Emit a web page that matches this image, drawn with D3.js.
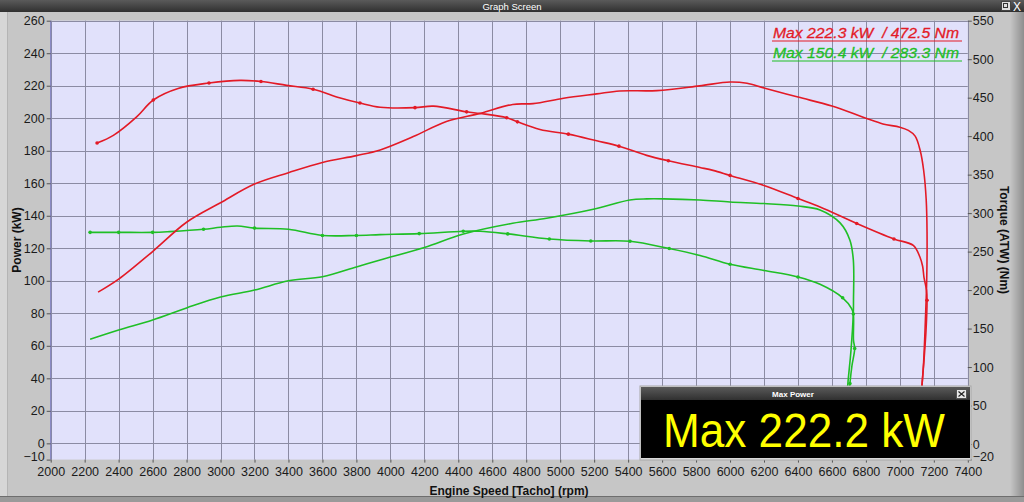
<!DOCTYPE html>
<html><head><meta charset="utf-8">
<script src="https://cdn.jsdelivr.net/npm/d3@7"></script>
<style>
body{margin:0;background:#c6c6c6;overflow:hidden}
svg text{font-family:Arial,"Liberation Sans",sans-serif}
</style>
</head><body><svg id="c" width="1024" height="502"></svg>
<script>
// ---------- data ----------
const rpmTicks = d3.range(2000, 7401, 200);
const powerTicks = [-10, 0, 20, 40, 60, 80, 100, 120, 140, 160, 180, 200, 220, 240, 260];
const torqueTicks = [-20, 0, 50, 100, 150, 200, 250, 300, 350, 400, 450, 500, 550];

// [rpm, kW]
const redPower = [[2279,93],[2400,101],[2600,118],[2800,136],[3000,148],[3200,159.5],[3400,166.5],[3600,172.8],[3800,177],[3940,180.5],[4135,188.7],[4330,198],[4530,203],[4720,208.5],[4840,209],[5020,212.3],[5215,215],[5350,216.8],[5570,217],[5820,219.9],[6000,222.3],[6100,221.5],[6200,218.6],[6400,213],[6600,207.5],[6800,200],[6900,196.5],[7000,194.5],[7050,192.5],[7090,189],[7120,180],[7140,168],[7155,150],[7160,130],[7158,100],[7150,75],[7140,50],[7130,35],[7115,10],[7100,-8]];
// [rpm, Nm]
const redTorque = [[2273,391],[2369,401],[2506,425],[2604,447],[2750,462],[2932,469],[3115,472.5],[3238,471],[3389,466],[3545,461],[3700,450],[3821,443],[3940,437.5],[4145,437],[4253,439],[4449,431.6],[4528,429.5],[4685,424],[4748,418.6],[4881,408.7],[5048,402.6],[5215,394],[5346,387],[5509,375],[5637,368],[5823,359.3],[5900,355.5],[6000,349],[6200,336],[6400,319],[6530,308],[6746,286.5],[6965,266.4],[7079,258],[7118,243],[7134,231],[7142,216.6],[7157,199.7],[7160,186.7],[7154,147.6],[7142,108.6],[7130,76],[7112,30],[7100,-10]];
const greenPower = [[2232,64],[2400,69.7],[2600,75.9],[2800,83.3],[3000,90],[3200,94.3],[3400,100],[3600,102.5],[3800,108.5],[3940,112.8],[4200,120.5],[4430,128.8],[4720,135.4],[4920,138.5],[5195,144],[5410,149.7],[5510,150.4],[5610,150.4],[5823,149.7],[6000,148.5],[6200,147.5],[6400,146],[6530,143.6],[6648,135.6],[6706,125],[6726,112.8],[6727,88],[6726,80],[6712,57],[6694,37],[6677,14],[6665,-8]];
const greenTorque = [[2232,275],[2400,275],[2600,275],[2700,276],[2900,279],[3000,281.6],[3100,283.3],[3200,280.5],[3400,279],[3600,271],[3800,271],[3939,272],[4170,273.4],[4429,276.4],[4528,276.4],[4691,273],[4936,266.4],[5180,263.8],[5411,263.4],[5642,254],[5823,245],[6000,233.5],[6200,225.5],[6400,217],[6530,207.5],[6663,190],[6716,176],[6726,169],[6727,134.6],[6734,124],[6718,102],[6706,78.7],[6690,30],[6677,-15]];

// indices of points that carry a small marker
const redPowerMarks = [];
const redTorqueMarks = [0,3,5,7,9,11,13,15,17,18,20,22,24,27,29,31,32,38];
const greenPowerMarks = [];
const greenTorqueMarks = [0,1,2,4,7,9,10,12,13,15,16,17,18,19,21,23,25,27,29,31];

const legendLines = ["Max 222.3 kW  / 472.5 Nm", "Max 150.4 kW  / 283.3 Nm"];
const maxText = "Max 222.2 kW";

// ---------- drawing ----------
const svg = d3.select("#c");
const W = 1024, H = 502;
const red = "#e31a26", green = "#1fbf25";

const x = d3.scaleLinear().domain([2000, 7400]).range([50.7, 967.8]);
const yP = d3.scaleLinear().domain([-10, 260]).range([459.6, 20.7]);
const yT = d3.scaleLinear().domain([-20, 550]).range([459.4, 20.7]);

// window frame
svg.append("rect").attr("width", W).attr("height", H).attr("fill", "#c6c6c6");
svg.append("rect").attr("x", 0).attr("y", 12).attr("width", 7).attr("height", H-12).attr("fill", "#d6d6d6");
svg.append("line").attr("x1", 7.5).attr("x2", 7.5).attr("y1", 12).attr("y2", 497).attr("stroke", "#b4b4b4");
const defs = svg.append("defs");
const rg = defs.append("linearGradient").attr("id", "rg").attr("x1", 0).attr("x2", 1);
rg.append("stop").attr("offset", 0).attr("stop-color", "#c6c6c6");
rg.append("stop").attr("offset", 1).attr("stop-color", "#8e8e8e");
svg.append("rect").attr("x", 1010).attr("y", 12).attr("width", 14).attr("height", H-12).attr("fill", "url(#rg)");
svg.append("rect").attr("x", 0).attr("y", 496).attr("width", W).attr("height", 6).attr("fill", "#9a9a9a");
svg.append("line").attr("x1", 0).attr("x2", W).attr("y1", 496.5).attr("y2", 496.5).attr("stroke", "#6e6e6e");

// title bar
const tg = defs.append("linearGradient").attr("id", "tg").attr("x1", 0).attr("x2", 0).attr("y1", 0).attr("y2", 1);
tg.append("stop").attr("offset", 0).attr("stop-color", "#5a5a5a");
tg.append("stop").attr("offset", 1).attr("stop-color", "#303030");
svg.append("rect").attr("width", W).attr("height", 12).attr("fill", "url(#tg)");
svg.append("text").attr("x", 512).attr("y", 9.5).attr("text-anchor", "middle").attr("fill", "#fff")
  .attr("font-size", 9.5).text("Graph Screen");
svg.append("rect").attr("x", 1001.5).attr("y", 1.5).attr("width", 9).attr("height", 9).attr("fill", "#ddd").attr("stroke", "#444");
svg.append("rect").attr("x", 1003.5).attr("y", 3.5).attr("width", 4).attr("height", 4).attr("fill", "none").attr("stroke", "#333");
svg.append("text").attr("x", 1017).attr("y", 10.5).attr("text-anchor", "middle").attr("fill", "#fff").attr("font-size", 12).text("X");

// plot background
const px0 = x(2000), px1 = x(7400), py0 = yP(260), py1 = yP(-10);
svg.append("rect").attr("x", px0).attr("y", py0).attr("width", px1-px0).attr("height", py1-py0).attr("fill", "#e1e1fb");

// grid
const grid = svg.append("g").attr("stroke", "#8b8ba3").attr("stroke-width", 1);
rpmTicks.forEach(r => grid.append("line").attr("x1", Math.round(x(r))+0.5).attr("x2", Math.round(x(r))+0.5).attr("y1", py0).attr("y2", py1));
powerTicks.filter(p => p >= 0).forEach(p => grid.append("line").attr("x1", px0).attr("x2", px1).attr("y1", Math.round(yP(p))+0.5).attr("y2", Math.round(yP(p))+0.5));
svg.append("line").attr("x1", px0).attr("x2", px0).attr("y1", py0).attr("y2", py1).attr("stroke", "#7a7ac0");

// axes
const axL = svg.append("g").attr("transform", `translate(${px0},0)`)
  .call(d3.axisLeft(yP).tickValues(powerTicks).tickFormat(d3.format("d")).tickSize(4).tickSizeOuter(0));
const axR = svg.append("g").attr("transform", `translate(${px1},0)`)
  .call(d3.axisRight(yT).tickValues(torqueTicks).tickFormat(d3.format("d")).tickSize(4).tickSizeOuter(0).tickPadding(1));
const axB = svg.append("g").attr("transform", `translate(0,${py1})`)
  .call(d3.axisBottom(x).tickValues(rpmTicks).tickFormat(d3.format("d")).tickSize(3).tickSizeOuter(0).tickPadding(5));
[axL, axR, axB].forEach(a => {
  a.select(".domain").remove();
  a.selectAll("line").attr("stroke", "#555");
  a.selectAll("text").attr("font-size", 12.5).attr("fill", "#1a1a1a").attr("font-family", "Arial, 'Liberation Sans', sans-serif");
});
axL.selectAll("text").attr("dx", 1);
// lift the lowest tick labels slightly like the reference
axL.selectAll(".tick").filter(d => d === -10).select("text").attr("dy", "0.05em");
axR.selectAll(".tick").filter(d => d === -20).select("text").attr("dy", "0.05em");

// axis titles
svg.append("text").attr("transform", "translate(21,240) rotate(-90)").attr("text-anchor", "middle")
  .attr("font-size", 12).attr("font-weight", "bold").attr("fill", "#111").text("Power (kW)");
svg.append("text").attr("transform", "translate(1000,240) rotate(90)").attr("text-anchor", "middle")
  .attr("font-size", 12).attr("font-weight", "bold").attr("fill", "#111").text("Torque (ATW) (Nm)");
svg.append("text").attr("x", 509).attr("y", 495).attr("text-anchor", "middle")
  .attr("font-size", 12).attr("font-weight", "bold").attr("fill", "#111").text("Engine Speed [Tacho] (rpm)");

// curves
defs.append("clipPath").attr("id", "clip").append("rect")
  .attr("x", px0).attr("y", py0).attr("width", px1-px0).attr("height", py1-py0);
const plot = svg.append("g").attr("clip-path", "url(#clip)");
function curve(data, ys, color, marks) {
  const line = d3.line().x(d => x(d[0])).y(d => ys(d[1])).curve(d3.curveCatmullRom.alpha(0.5));
  plot.append("path").datum(data).attr("d", line).attr("fill", "none").attr("stroke", color).attr("stroke-width", 1.6);
  plot.selectAll(null).data(marks.map(i => data[i])).enter().append("circle")
    .attr("cx", d => x(d[0])).attr("cy", d => ys(d[1])).attr("r", 1.8).attr("fill", color);
}
curve(greenPower, yP, green, greenPowerMarks);
curve(greenTorque, yT, green, greenTorqueMarks);
curve(redPower, yP, red, redPowerMarks);
curve(redTorque, yT, red, redTorqueMarks);

// legend
const legColors = [red, green];
legendLines.forEach((t, i) => {
  const yb = 38 + i * 20;
  svg.append("text").attr("x", 773).attr("y", yb).attr("font-size", 15).attr("font-style", "italic")
    .attr("fill", legColors[i]).attr("textLength", 186).attr("lengthAdjust", "spacingAndGlyphs")
    .attr("stroke", legColors[i]).attr("stroke-width", 0.3)
    .style("white-space", "pre").text(t);
  svg.append("line").attr("x1", 772).attr("x2", 962).attr("y1", yb + 3).attr("y2", yb + 3)
    .attr("stroke", legColors[i]).attr("stroke-width", 1.2);
});

// Max power box
const bx = 641, by = 387, bw = 329, bh = 72;
svg.append("rect").attr("x", bx-1).attr("y", by-1).attr("width", bw+2).attr("height", bh+2).attr("fill", "#d8d8d8").attr("stroke", "#a8a8a8");
svg.append("rect").attr("x", bx).attr("y", by).attr("width", bw).attr("height", 13).attr("fill", "url(#tg)");
svg.append("text").attr("x", bx + 152).attr("y", by + 9.5).attr("text-anchor", "middle").attr("fill", "#fff")
  .attr("font-size", 8).attr("font-weight", "bold").text("Max Power");
svg.append("rect").attr("x", bx + bw - 13.5).attr("y", by + 2.5).attr("width", 10).attr("height", 9).attr("fill", "#e8e8e8").attr("stroke", "#555");
svg.append("path").attr("d", `M${bx+bw-11.5},${by+4.5}L${bx+bw-5.5},${by+9.5}M${bx+bw-5.5},${by+4.5}L${bx+bw-11.5},${by+9.5}`)
  .attr("stroke", "#222").attr("stroke-width", 1.2);
svg.append("rect").attr("x", bx).attr("y", by + 13).attr("width", bw).attr("height", bh - 14).attr("fill", "#000");
svg.append("text").attr("x", 663).attr("y", 446.5).attr("font-size", 48).attr("fill", "#ffff00")
  .attr("textLength", 282).attr("lengthAdjust", "spacingAndGlyphs").text(maxText);
</script>
</body></html>
